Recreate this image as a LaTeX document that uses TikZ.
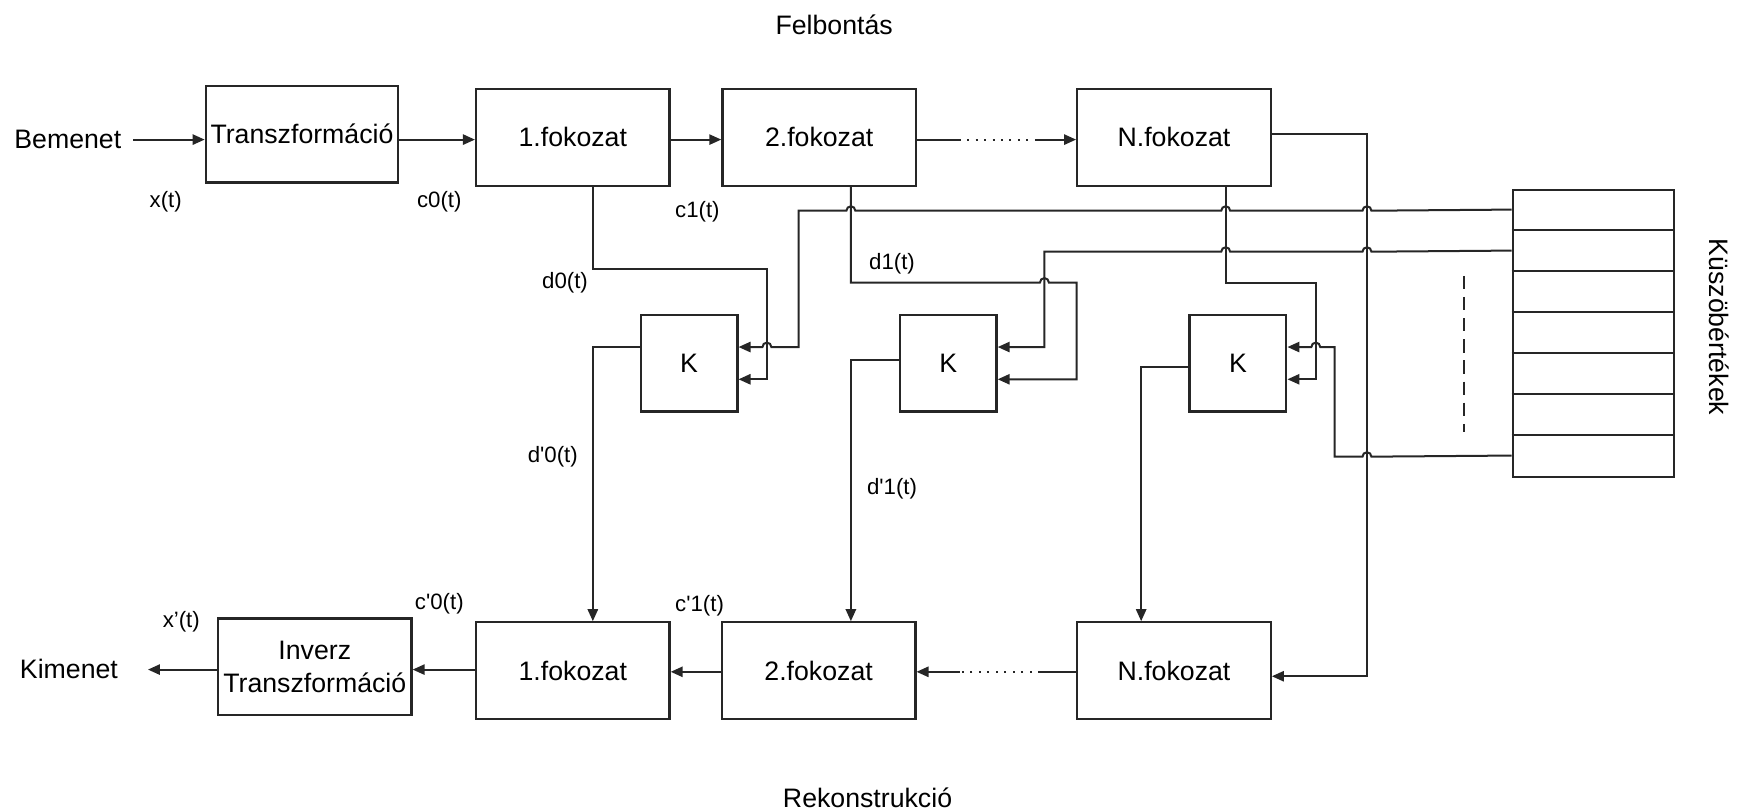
\documentclass[tikz,border=0pt]{standalone}
\usepackage{fontspec}
\setmainfont{Liberation Sans}
\usetikzlibrary{arrows.meta,calc}
\newcommand{\mainfs}{\fontsize{12}{14.85}\selectfont}
\newcommand{\lblfs}{\fontsize{10}{12}\selectfont}
\begin{document}
\begin{tikzpicture}[x=0.5pt,y=-0.5pt,
  ln/.style={draw=black!85, line width=0.9pt},
  arr/.style={ln, -{Triangle[length=5.4pt,width=4.6pt]}},
  dotseg/.style={ln, dash pattern=on 0.9pt off 2.9pt},
  blk/.style={draw=black!85, line width=1pt, rectangle, inner sep=0pt, font=\mainfs, align=center},
  stage/.style={blk, minimum width=87pt, minimum height=43.5pt},
  kbox/.style={blk, minimum width=43.5pt, minimum height=43.5pt},
  lbl/.style={font=\lblfs, inner sep=0pt},
  txt/.style={font=\mainfs, inner sep=0pt},
  hop/.style={radius=2pt}
]
\useasboundingbox (0,0) rectangle (1568,730);

% titles and free texts
\node[txt] (felb) at (750,22) {Felbontás};
\node[txt] (rek) at (780,717) {Rekonstrukció};
\node[txt] (bem) at (61,125) {Bemenet};
\node[txt] (kim) at (62,601) {Kimenet};
\node[txt, rotate=-90] (kusztxt) at (1546,294) {Küszöbértékek};

% decomposition chain
\node[stage, minimum width=86.5pt] (trans) at (271.5,120.5) {Transzformáció};
\node[stage] (f1) at (515,123.5) {1.fokozat};
\node[stage] (f2) at (736.5,123.5) {2.fokozat};
\node[stage] (fN) at (1055.5,123.5) {N.fokozat};

% thresholding blocks
\node[kbox] (k1) at (619.5,326.5) {K};
\node[kbox] (k2) at (852.5,326.5) {K};
\node[kbox] (k3) at (1113,326.5) {K};

% reconstruction chain
\node[stage] (g1) at (515,603) {1.fokozat};
\node[stage] (g2) at (736,603) {2.fokozat};
\node[stage] (gN) at (1055.5,603) {N.fokozat};
\node[stage] (inv) at (283,599.5) {Inverz\\Transzformáció};

% threshold table
\node[blk, minimum width=72.5pt, minimum height=129pt] (kusz) at (1432.5,300) {};
\foreach \i in {1,...,6}
  \draw[ln] ([yshift=-\i*18.4286pt]kusz.north west) -- ([yshift=-\i*18.4286pt]kusz.north east);
\coordinate (t1) at ([yshift=-9.2143pt]kusz.north west);
\coordinate (t2) at ([yshift=-27.643pt]kusz.north west);
\coordinate (t7) at ([yshift=-119.786pt]kusz.north west);
\draw[ln, dash pattern=on 6pt off 3.5pt] (1316,248) -- (1316,388);

% signal labels
\node[lbl] (lx) at (149,181) {x(t)};
\node[lbl] (lc0) at (395,181) {c0(t)};
\node[lbl] (lc1) at (627,190) {c1(t)};
\node[lbl] (ld0) at (508,254) {d0(t)};
\node[lbl] (ld1) at (802,237) {d1(t)};
\node[lbl] (ldp0) at (497,411) {d\textquotesingle0(t)};
\node[lbl] (ldp1) at (802,439) {d\textquotesingle1(t)};
\node[lbl] (lcp0) at (395,543) {c\textquotesingle0(t)};
\node[lbl] (lcp1) at (629,545) {c\textquotesingle1(t)};
\node[lbl] (lxp) at (163,559) {x’(t)};

% top row connections
\coordinate (in0) at (120,125.5);
\coordinate (dA) at (862,125.5);
\coordinate (dB) at (932,125.5);
\draw[arr] (in0) -- (trans.west |- in0);
\draw[arr] (trans.east |- in0) -- (f1.west |- in0);
\draw[arr] (f1.east |- in0) -- (f2.west |- in0);
\draw[ln] (f2.east |- in0) -- (dA);
\draw[dotseg] (dA) -- (dB);
\draw[arr] (dB) -- (fN.west |- in0);

% last approximation straight to the reconstruction
\draw[arr] (fN.east |- 0,120.5) -- (1229,120.5) -- (1229,608) -- (gN.east |- 0,608);

% detail signals into the K blocks
\draw[arr] (f1.south -| 533,0) -- (533,242) -- (689.5,242) -- (689.5,341) -- (k1.east |- 0,341);
\draw[arr] (f2.south -| 765,0) -- (765,254) -- (935,254) arc[start angle=180,end angle=0,hop]
  -- (968,254) -- (968,341) -- (k2.east |- 0,341);
\draw[arr] (fN.south -| 1102,0) -- (1102,254) -- (1183,254) -- (1183,341) -- (k3.east |- 0,341);

% threshold values into the K blocks
\draw[arr] (t1) -- (1233,189.43) arc[start angle=0,end angle=180,hop]
  -- (1106,189.43) arc[start angle=0,end angle=180,hop]
  -- (769,189.43) arc[start angle=0,end angle=180,hop]
  -- (718,189.43) -- (718,312) -- (693.5,312) arc[start angle=0,end angle=180,hop]
  -- (k1.east |- 0,312);
\draw[arr] (t2) -- (1233,226.29) arc[start angle=0,end angle=180,hop]
  -- (1106,226.29) arc[start angle=0,end angle=180,hop]
  -- (939,226.29) -- (939,312) -- (k2.east |- 0,312);
\draw[arr] (t7) -- (1233,410.57) arc[start angle=0,end angle=180,hop]
  -- (1200,410.57) -- (1200,312) -- (1187,312) arc[start angle=0,end angle=180,hop]
  -- (k3.east |- 0,312);

% thresholded details into the reconstruction
\draw[arr] (k1.west |- 0,312) -- (533,312) -- (g1.north -| 533,0);
\draw[arr] (k2.west |- 0,324) -- (765,324) -- (g2.north -| 765,0);
\draw[arr] (k3.west |- 0,330) -- (1026,330) -- (gN.north -| 1026,0);

% bottom row connections
\coordinate (eA) at (935,604);
\coordinate (eB) at (863,604);
\coordinate (out0) at (133,602);
\draw[ln] (gN.west |- eA) -- (eA);
\draw[dotseg] (eA) -- (eB);
\draw[arr] (eB) -- (g2.east |- eB);
\draw[arr] (g2.west |- eB) -- (g1.east |- eB);
\draw[arr] (g1.west |- out0) -- (inv.east |- out0);
\draw[arr] (inv.west |- out0) -- (out0);
\end{tikzpicture}
\end{document}
